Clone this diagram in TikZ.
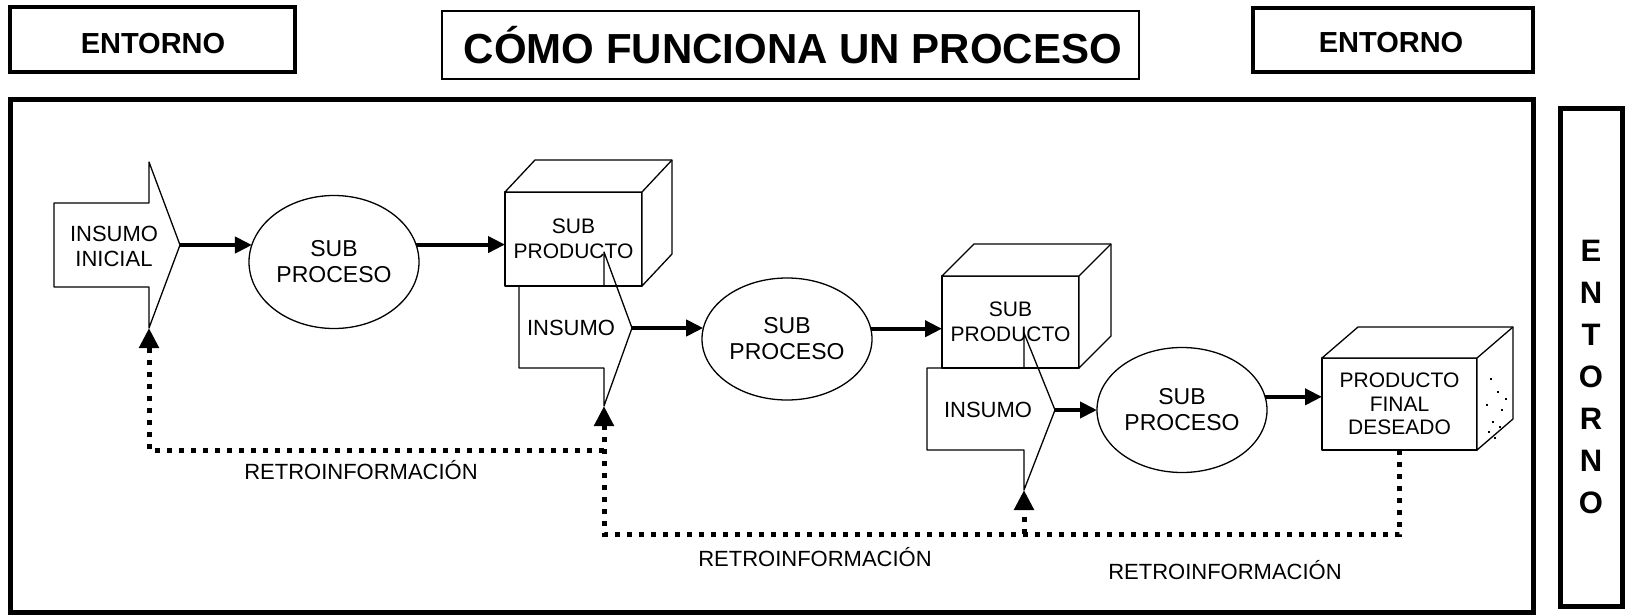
\documentclass[tikz,border=0pt]{standalone}
\usepackage{fontspec}
\setmainfont{Liberation Sans}
\usetikzlibrary{arrows.meta,calc,shapes.geometric}
\begin{document}
\begin{tikzpicture}[x=1pt,y=-1pt,
  thinln/.style={line width=1.3pt, line join=round},
  hdrbox/.style={draw, line width=3.5pt, inner sep=0pt, outer sep=0pt},
  hdrtxt/.style={inner sep=0pt, font=\fontsize{29}{34}\selectfont\bfseries},
  titletxt/.style={inner sep=0pt, font=\fontsize{42}{48}\selectfont\bfseries},
  vtxt/.style={inner sep=0pt, font=\fontsize{31}{36}\selectfont\bfseries},
  lbl/.style={inner sep=0pt, align=center, font=\fontsize{22}{25}\selectfont},
  proc/.style={ellipse, draw, thinln, fill=white, inner sep=0pt, outer sep=0pt, align=center,
    minimum width=170pt, font=\fontsize{23}{26}\selectfont},
  cubefront/.style={draw, thinln, fill=white, inner sep=0pt, outer sep=0pt, align=center,
    font=\fontsize{21}{25}\selectfont},
  flow/.style={line width=4pt, -{Triangle[length=17pt,width=16pt]}},
  fbarrow/.style={line width=5pt, dash pattern=on 5pt off 7pt, -{Triangle[length=20pt,width=19pt]}},
  fbline/.style={line width=5pt, dash pattern=on 5pt off 7pt}
]
\fill[white] (0,0) rectangle (1626,615);
\path[use as bounding box] (0,0) rectangle (1626,615);

% header
\node[hdrbox, minimum width=285pt, minimum height=65pt] (envL) at (152.5,39.5) {};
\node[hdrtxt] (envLt) at (153,44) {ENTORNO};
\node[draw, line width=1.8pt, inner sep=0pt, outer sep=0pt, minimum width=697pt, minimum height=68pt] (title) at (790.5,45) {};
\node[titletxt] (titlet) at (793,45) {CÓMO FUNCIONA UN PROCESO};
\node[hdrbox, minimum width=280pt, minimum height=64pt] (envR) at (1393,40) {};
\node[hdrtxt] (envRt) at (1391,43) {ENTORNO};

% frames
\draw[line width=5pt] (10,100) rectangle (1533,612);
\draw[line width=5pt] (1560,109) -- (1560,606) -- (1622,606) -- (1622,109) -- cycle;
\foreach \l [count=\i from 0] in {E,N,T,O,R,N,O}
  \node[vtxt] (v\i) at (1591,{251+42*\i}) {\l};

% cube 1
\node[cubefront, minimum width=137pt, minimum height=94pt] (c1) at (573.5,239) {SUB\\PRODUCTO};
\draw[thinln, fill=white] (c1.north west) -- ++(30,-32) coordinate (c1tl) -- ++(137,0) coordinate (c1tr)
   -- ++(0,94) coordinate (c1br) -- (c1.south east) -- (c1.north east) -- cycle;
\draw[thinln] (c1.north east) -- (c1tr);

% cube 2
\node[cubefront, minimum width=137pt, minimum height=92pt] (c2) at (1010.5,322) {SUB\\PRODUCTO};
\draw[thinln, fill=white] (c2.north west) -- ++(32,-32) coordinate (c2tl) -- ++(137,0) coordinate (c2tr)
   -- ++(0,92) coordinate (c2br) -- (c2.south east) -- (c2.north east) -- cycle;
\draw[thinln] (c2.north east) -- (c2tr);

% final cube
\node[cubefront, minimum width=155pt, minimum height=92pt, font=\fontsize{21}{23.5}\selectfont] (c3) at (1399.5,404) {PRODUCTO\\FINAL\\DESEADO};
\draw[thinln, fill=white] (c3.north west) -- ++(36,-31) coordinate (c3tl) -- ++(155,0) coordinate (c3tr)
   -- ++(0,92) coordinate (c3br) -- (c3.south east) -- (c3.north east) -- cycle;
\draw[thinln] (c3.north east) -- (c3tr);
\foreach \p in {(1490,378),(1497,391),(1486,404),(1501,409),(1492,421),(1505,398),(1488,431),(1499,426),(1494,437)}
  \fill \p rectangle ++(1.6,1.6);

% insumo shapes
\draw[thinln] (54,203) -- (149,203) -- (149,162) -- (180,245) coordinate (t1)
   -- (149,328) coordinate (i1b) -- (149,287) -- (54,287) -- cycle;
\node[lbl] (in1) at (114,246) {INSUMO\\INICIAL};
\draw[thinln] (519,286) -- (604,286) -- (604,252) -- (632,328) coordinate (t2)
   -- (604,406) coordinate (i2b) -- (604,368) -- (519,368) -- cycle;
\node[lbl] (in2) at (571,328) {INSUMO};
\draw[thinln] (927,368) -- (1024,368) -- (1024,333) -- (1055,410) coordinate (t3)
   -- (1024,490) coordinate (i3b) -- (1024,450) -- (927,450) -- cycle;
\node[lbl] (in3) at (988,410) {INSUMO};

% sub processes
\node[proc, minimum height=133pt] (e1) at (334,262) {SUB\\PROCESO};
\node[proc, minimum height=122pt] (e2) at (787,339) {SUB\\PROCESO};
\node[proc, minimum height=125pt] (e3) at (1182,410) {SUB\\PROCESO};

% flow arrows
\draw[flow] (t1) -- (t1 -| e1.168);
\draw[flow] (e1.12) -- (e1.12 -| c1.west);
\draw[flow] (t2) -- (t2 -| e2.173);
\draw[flow] (e2.7) -- (e2.7 -| c2.west);
\draw[flow] (t3) -- (e3.west);
\draw[flow] (e3.9) -- (e3.9 -| c3.west);

% feedback
\coordinate (fb1y) at (0,450);
\coordinate (fb2y) at (0,534);
\draw[fbarrow] (c3.south) |- (i2b |- fb2y) -- (i2b);
\draw[fbarrow] (i3b |- fb2y) -- (i3b);
\draw[fbarrow] (i2b |- fb1y) -| (i1b);

\node[lbl] (r1) at (361,470) {RETROINFORMACIÓN};
\node[lbl] (r2) at (815,557) {RETROINFORMACIÓN};
\node[lbl] (r3) at (1225,570) {RETROINFORMACIÓN};
\end{tikzpicture}
\end{document}
